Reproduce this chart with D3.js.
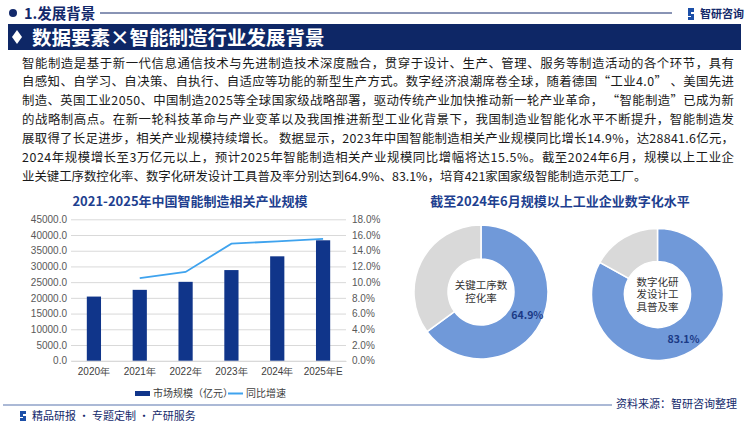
<!DOCTYPE html>
<html>
<head>
<meta charset="utf-8">
<script src="https://cdn.jsdelivr.net/npm/d3@7"></script>
<style>
  body { margin: 0; background: #fff; }
  svg { display: block; font-family: "Noto Sans CJK SC", "Noto Sans", sans-serif; }
</style>
</head>
<body>
<svg id="chart" width="750" height="423"></svg>
<script>
// data
var years = ["2020年", "2021年", "2022年", "2023年", "2024年", "2025年E"];
var marketSize = [20410, 22550, 25100, 28841.6, 33220, 38320];
var growth = [null, 10.5, 11.3, 14.9, 15.2, 15.5];
var leftTicks = [0, 5000, 10000, 15000, 20000, 25000, 30000, 35000, 40000, 45000];
var rightTicks = [0, 2, 4, 6, 8, 10, 12, 14, 16, 18];
var donutLabels = [["关键工序数", "控化率"], ["数字化研", "发设计工", "具普及率"]];
var donutValues = [64.9, 83.1];
var paragraph = [
  "智能制造是基于新一代信息通信技术与先进制造技术深度融合，贯穿于设计、生产、管理、服务等制造活动的各个环节，具有",
  "自感知、自学习、自决策、自执行、自适应等功能的新型生产方式。数字经济浪潮席卷全球，随着德国“工业4.0” 、美国先进",
  "制造、英国工业2050、中国制造2025等全球国家级战略部署，驱动传统产业加快推动新一轮产业革命， “智能制造”已成为新",
  "的战略制高点。在新一轮科技革命与产业变革以及我国推进新型工业化背景下，我国制造业智能化水平不断提升，智能制造发",
  "展取得了长足进步，相关产业规模持续增长。 数据显示，2023年中国智能制造相关产业规模同比增长14.9%，达28841.6亿元，",
  "2024年规模增长至3万亿元以上，预计2025年智能制造相关产业规模同比增幅将达15.5%。截至2024年6月，规模以上工业企",
  "业关键工序数控化率、数字化研发设计工具普及率分别达到64.9%、83.1%，培育421家国家级智能制造示范工厂。"
];

var navy = "#13296b", barColor = "#10358a", lineColor = "#3fa3ee";
var svg = d3.select("#chart");

// header
svg.append("circle").attr("cx", 13).attr("cy", 13).attr("r", 4).attr("fill", navy);
svg.append("text").attr("x", 24).attr("y", 18.5).attr("fill", navy)
  .attr("font-size", 14.5).attr("font-weight", "bold").text("1.发展背景");
svg.append("line").attr("x1", 100).attr("x2", 672).attr("y1", 13).attr("y2", 13)
  .attr("stroke", navy).attr("stroke-width", 1);
svg.append("path").attr("d", "M688,8h6v4h-3v2h3v6h-6v-3h3v-1h-3z").attr("fill", "#1c4fa8");
svg.append("text").attr("x", 700).attr("y", 17.5).attr("fill", navy)
  .attr("font-size", 11).attr("font-weight", "bold").text("智研咨询");

// banner
svg.append("rect").attr("x", 8).attr("y", 24).attr("width", 733).attr("height", 26).attr("fill", "#0e2766");
svg.append("path").attr("d", "M17,30l5,7l-5,7l-5,-7z").attr("fill", "#fff");
svg.append("text").attr("x", 32).attr("y", 44.5).attr("fill", "#fff")
  .attr("font-size", 19.5).attr("font-weight", "bold").text("数据要素×智能制造行业发展背景");

// paragraph
paragraph.forEach(function(t, i) {
  var tx = svg.append("text").attr("x", 22).attr("y", 67.5 + i * 18.9)
    .attr("font-size", 12.4).attr("fill", "#1a1a1a").text(t);
  if (i < paragraph.length - 1) tx.attr("textLength", 712).attr("lengthAdjust", "spacing");
});

// left chart
svg.append("text").attr("x", 190).attr("y", 206).attr("text-anchor", "middle")
  .attr("fill", "#1e3f8f").attr("font-size", 13).attr("font-weight", "bold")
  .text("2021-2025年中国智能制造相关产业规模");

var x = d3.scaleBand().domain(years).range([71, 346]).paddingInner(0.69).paddingOuter(0.345);
var y = d3.scaleLinear().domain([0, 45000]).range([360.7, 219.3]);
var y2 = d3.scaleLinear().domain([0, 18]).range([360.7, 219.3]);

svg.append("g").attr("transform", "translate(71,0)")
  .call(d3.axisLeft(y).tickValues(leftTicks).tickSize(-275).tickFormat(d3.format(".1f")))
  .call(g => g.select(".domain").remove())
  .call(g => g.selectAll("line").attr("stroke", "#d9d9d9"))
  .call(g => g.selectAll("text").attr("x", -4).attr("fill", "#595959").attr("font-size", 10));

svg.append("g").attr("transform", "translate(346,0)")
  .call(d3.axisRight(y2).tickValues(rightTicks).tickSize(0).tickFormat(d => d.toFixed(1) + "%"))
  .call(g => g.select(".domain").remove())
  .call(g => g.selectAll("text").attr("x", 6).attr("fill", "#595959").attr("font-size", 10));

svg.append("g").attr("transform", "translate(0,361)")
  .call(d3.axisBottom(x).tickSize(0))
  .call(g => g.select(".domain").attr("stroke", "#d9d9d9"))
  .call(g => g.selectAll("text").attr("dy", "1.1em").attr("fill", "#404040").attr("font-size", 10));

svg.selectAll(".bar").data(marketSize).enter().append("rect")
  .attr("class", "bar")
  .attr("x", (d, i) => x(years[i]))
  .attr("width", x.bandwidth())
  .attr("y", d => y(d))
  .attr("height", d => y(0) - y(d))
  .attr("fill", barColor);

var line = d3.line()
  .defined(d => d != null)
  .x((d, i) => x(years[i]) + x.bandwidth() / 2)
  .y(d => y2(d));
svg.append("path").datum(growth).attr("d", line)
  .attr("fill", "none").attr("stroke", lineColor).attr("stroke-width", 1.8);

// legend
svg.append("rect").attr("x", 135).attr("y", 391).attr("width", 15).attr("height", 5).attr("fill", barColor);
svg.append("text").attr("x", 153).attr("y", 397).attr("font-size", 10).attr("fill", "#404040").text("市场规模（亿元）");
svg.append("line").attr("x1", 228).attr("x2", 243).attr("y1", 393.5).attr("y2", 393.5)
  .attr("stroke", lineColor).attr("stroke-width", 2);
svg.append("text").attr("x", 246).attr("y", 397).attr("font-size", 10).attr("fill", "#404040").text("同比增速");

// right chart
svg.append("text").attr("x", 560).attr("y", 206).attr("text-anchor", "middle")
  .attr("fill", "#1e3f8f").attr("font-size", 13).attr("font-weight", "bold")
  .text("截至2024年6月规模以上工业企业数字化水平");

var centers = [[481, 292, 67], [657.5, 294.5, 66]];
var pie = d3.pie().sort(null).value(d => d);
donutValues.forEach(function(v, k) {
  var c = centers[k];
  var g = svg.append("g").attr("transform", "translate(" + c[0] + "," + c[1] + ")");
  var arc = d3.arc().innerRadius(33).outerRadius(c[2]);
  var arcs = pie([v, 100 - v]);
  g.selectAll("path").data(arcs).enter().append("path")
    .attr("d", arc)
    .attr("fill", (d, i) => i === 0 ? "#7099d9" : "#d9d9d9")
    .attr("stroke", "#fff").attr("stroke-width", 1.5);
  var lab = d3.arc().innerRadius(33).outerRadius(c[2] + 4);
  var pt = lab.centroid(arcs[0]);
  g.append("text").attr("x", pt[0]).attr("y", pt[1] + 4).attr("text-anchor", "middle")
    .attr("fill", "#1b3a86").attr("font-size", 10.5).attr("font-weight", "bold").text(v.toFixed(1) + "%");
  // centre label as one text block
  var lines = donutLabels[k];
  var ct = g.append("text").attr("text-anchor", "middle").attr("fill", "#333").attr("font-size", 10.5);
  lines.forEach(function(t, j) {
    ct.append("tspan").attr("x", 0).attr("y", (j - (lines.length - 1) / 2) * 12.5 + 3.5).text(t);
  });
});

// footer
svg.append("line").attr("x1", 3).attr("x2", 612).attr("y1", 405).attr("y2", 405)
  .attr("stroke", "#8fa2c8").attr("stroke-width", 1.5);
svg.append("text").attr("x", 737).attr("y", 408).attr("text-anchor", "end")
  .attr("fill", navy).attr("font-size", 11).text("资料来源：智研咨询整理");
svg.append("path").attr("d", "M20,411h6v3h-3v2h3v5h-6v-3h3v-1h-3z").attr("fill", "#1c4fa8");
svg.append("text").attr("x", 32).attr("y", 420).attr("fill", navy).attr("font-size", 11)
  .text("精品研报 · 专题定制 · 产研服务");
</script>
</body>
</html>
